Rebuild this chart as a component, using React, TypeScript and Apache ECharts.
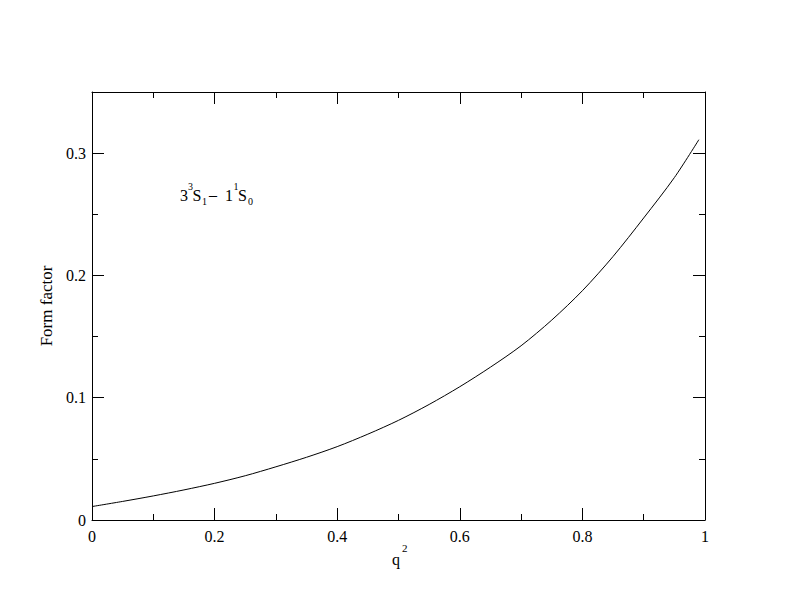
import React, { useEffect, useRef } from "react";
import * as echarts from "echarts";

const q2: number[] = [0, 0.05, 0.1, 0.15, 0.2, 0.25, 0.3, 0.35, 0.4, 0.45, 0.5, 0.55, 0.6, 0.65, 0.7, 0.75, 0.8, 0.85, 0.9, 0.95, 0.99];
const formFactor: number[] = [0.011, 0.0152, 0.0197, 0.0246, 0.030, 0.0362, 0.0435, 0.0513, 0.060, 0.0702, 0.0815, 0.0945, 0.109, 0.125, 0.1425, 0.1635, 0.1875, 0.2155, 0.247, 0.280, 0.311];
const xTickLabels: Record<string, string> = { "0": "0", "0.2": "0.2", "0.4": "0.4", "0.6": "0.6", "0.8": "0.8", "1": "1" };
const yTickLabels: Record<string, string> = { "0": "0", "0.1": "0.1", "0.2": "0.2", "0.3": "0.3" };

const FONT = "Times New Roman, Liberation Serif, serif";

export default function App() {
  const ref = useRef<HTMLDivElement>(null);
  useEffect(() => {
    if (!ref.current) return;
    const chart = echarts.init(ref.current, null, { renderer: "svg" });
    const axisCommon = {
      axisLine: { show: true, onZero: false, lineStyle: { color: "#000", width: 1 } },
      axisTick: { show: true, inside: true, length: 12, lineStyle: { color: "#000", width: 1 } },
      minorTick: { show: true, splitNumber: 2, length: 6, lineStyle: { color: "#000", width: 1 } },
      splitLine: { show: false },
    };
    const data = q2.map((x, i) => [x, formFactor[i]]);
    const txt = (x: number, y: number, s: string, size: number) => ({
      type: "text",
      x,
      y,
      style: { text: s, fontSize: size, fontFamily: FONT, fill: "#000", align: "left", verticalAlign: "middle" },
    });
    chart.setOption({
      animation: false,
      backgroundColor: "#fff",
      textStyle: { fontFamily: FONT },
      grid: { left: 92, top: 92, right: 87, bottom: 92, containLabel: false },
      xAxis: [
        {
          type: "value", min: 0, max: 1, interval: 0.2, position: "bottom",
          ...axisCommon,
          axisLabel: {
            show: true, margin: 8, fontSize: 16, fontFamily: FONT, color: "#000",
            formatter: (v: number) => xTickLabels[String(Math.round(v * 10) / 10)] ?? "",
          },
        },
        {
          type: "value", min: 0, max: 1, interval: 0.2, position: "top",
          ...axisCommon,
          axisLabel: { show: false },
        },
      ],
      yAxis: [
        {
          type: "value", min: 0, max: 0.35, interval: 0.1, position: "left",
          ...axisCommon,
          axisLabel: {
            show: true, margin: 6, fontSize: 16, fontFamily: FONT, color: "#000",
            formatter: (v: number) => yTickLabels[String(Math.round(v * 10) / 10)] ?? "",
          },
          name: "Form factor",
          nameLocation: "middle",
          nameGap: 31,
          nameRotate: 90,
          nameTextStyle: { fontSize: 17, fontFamily: FONT, color: "#000" },
        },
        {
          type: "value", min: 0, max: 0.35, interval: 0.1, position: "right",
          ...axisCommon,
          axisLabel: { show: false },
        },
      ],
      series: [
        {
          type: "line",
          data,
          smooth: 0.3,
          showSymbol: false,
          symbol: "none",
          lineStyle: { color: "#000", width: 1 },
          xAxisIndex: 0,
          yAxisIndex: 0,
        },
      ],
      graphic: [
        txt(392, 559, "q", 16),
        txt(402, 548, "2", 11),
        txt(180, 195, "3", 16),
        txt(188, 186, "3", 10),
        txt(192.5, 195, "S", 16),
        txt(202, 201, "1", 10),
        txt(209, 194, "\u2013", 16),
        txt(225, 195, "1", 16),
        txt(233.5, 186, "1", 10),
        txt(238, 195, "S", 16),
        txt(248, 201, "0", 10),
      ],
    });
    return () => chart.dispose();
  }, []);
  return <div ref={ref} style={{ position: "absolute", left: 0, top: 0, width: 792, height: 612 }} />;
}
